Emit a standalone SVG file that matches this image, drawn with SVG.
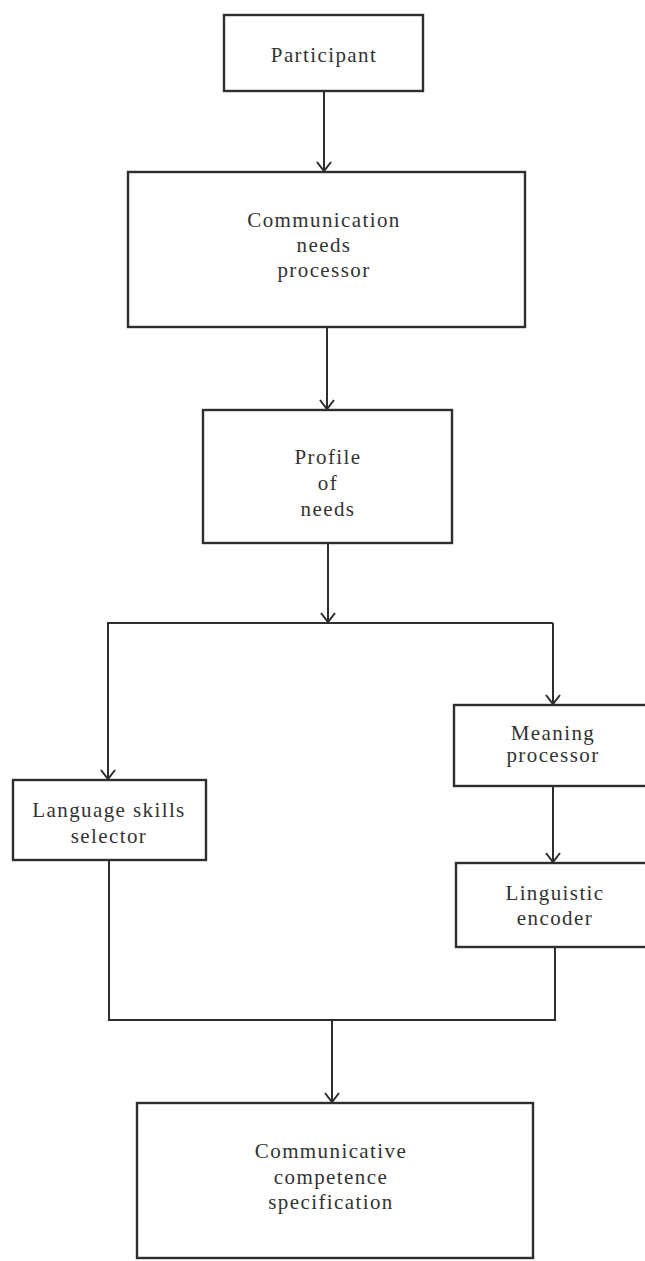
<svg xmlns="http://www.w3.org/2000/svg" width="645" height="1261" viewBox="0 0 645 1261">
<style>
.box{fill:none;stroke:#2e2e2e;stroke-width:2.4}
.ln{fill:none;stroke:#2e2e2e;stroke-width:2}
.t{font-family:"Liberation Serif","Times New Roman",serif;font-size:21px;letter-spacing:1.4px;fill:#333;text-anchor:middle}
</style>
<defs>
<marker id="arr" viewBox="-11 -9 13 18" markerWidth="13" markerHeight="18" refX="0" refY="0" orient="auto" markerUnits="userSpaceOnUse">
<path d="M-9,-7 L0,0 L-9,7" fill="none" stroke="#2e2e2e" stroke-width="2"/>
</marker>
</defs>
<rect width="645" height="1261" fill="#fff"/>
<g id="connectors">
<path class="ln" d="M324,91 V171" marker-end="url(#arr)"/>
<path class="ln" d="M327,327 V409" marker-end="url(#arr)"/>
<path class="ln" d="M328,543 V622" marker-end="url(#arr)"/>
<path class="ln" d="M107,623 H553"/>
<path class="ln" d="M108,623 V779" marker-end="url(#arr)"/>
<path class="ln" d="M553,623 V704" marker-end="url(#arr)"/>
<path class="ln" d="M553,786 V862" marker-end="url(#arr)"/>
<path class="ln" d="M109,860 V1020 H555 V947"/>
<path class="ln" d="M332,1021 V1102" marker-end="url(#arr)"/>
</g>
<g id="participant">
<rect class="box" x="224" y="15" width="199" height="76"/>
<text class="t" x="324" y="62">Participant</text>
</g>
<g id="comm-needs-processor">
<rect class="box" x="128" y="172" width="397" height="155"/>
<text class="t" x="324" y="227">Communication</text>
<text class="t" x="324" y="252">needs</text>
<text class="t" x="324" y="277">processor</text>
</g>
<g id="profile-of-needs">
<rect class="box" x="203" y="410" width="249" height="133"/>
<text class="t" x="328" y="464">Profile</text>
<text class="t" x="328" y="490">of</text>
<text class="t" x="328" y="516">needs</text>
</g>
<g id="language-skills-selector">
<rect class="box" x="13" y="780" width="193" height="80"/>
<text class="t" x="109" y="817">Language skills</text>
<text class="t" x="109" y="843">selector</text>
</g>
<g id="meaning-processor">
<rect class="box" x="454" y="705" width="196" height="81"/>
<text class="t" x="553" y="740">Meaning</text>
<text class="t" x="553" y="762">processor</text>
</g>
<g id="linguistic-encoder">
<rect class="box" x="456" y="863" width="194" height="84"/>
<text class="t" x="555" y="900">Linguistic</text>
<text class="t" x="555" y="925">encoder</text>
</g>
<g id="communicative-competence-spec">
<rect class="box" x="137" y="1103" width="396" height="155"/>
<text class="t" x="331" y="1158">Communicative</text>
<text class="t" x="331" y="1184">competence</text>
<text class="t" x="331" y="1209">specification</text>
</g>
</svg>
